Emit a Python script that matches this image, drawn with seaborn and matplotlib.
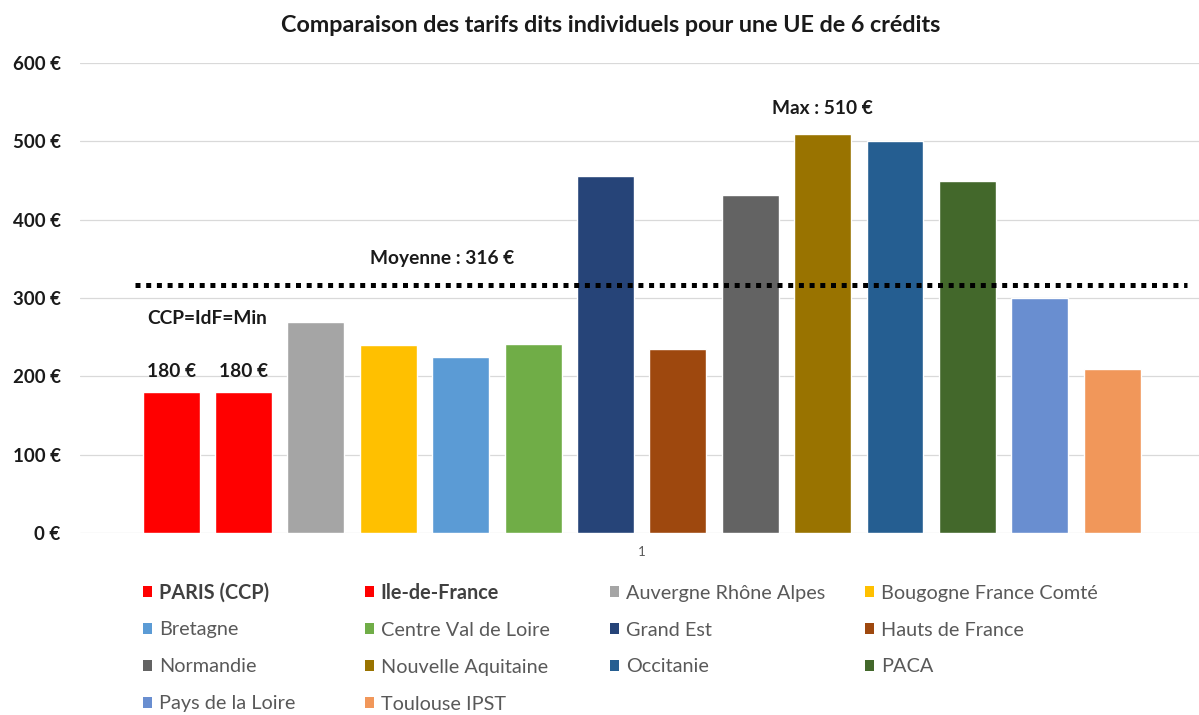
import numpy as np
import pandas as pd
import matplotlib.pyplot as plt
import seaborn as sns
from matplotlib.patches import Patch

# data
regions = [
    "PARIS (CCP)", "Ile-de-France", "Auvergne Rhône Alpes", "Bougogne France Comté",
    "Bretagne", "Centre Val de Loire", "Grand Est", "Hauts de France",
    "Normandie", "Nouvelle Aquitaine", "Occitanie", "PACA",
    "Pays de la Loire", "Toulouse IPST",
]
tarifs = [180, 180, 270, 240, 225, 241, 456, 235, 432, 510, 500, 450, 300, 210]
colors = [
    "#FF0000", "#FF0000", "#A5A5A5", "#FFC000",
    "#5B9BD5", "#70AD47", "#264478", "#9E480E",
    "#636363", "#997300", "#255E91", "#43682B",
    "#698ED0", "#F1975A",
]
bold_regions = ["PARIS (CCP)", "Ile-de-France"]
yticks = [0, 100, 200, 300, 400, 500, 600]

sns.set_theme(style="white")
plt.rcParams["font.family"] = ["Lato", "DejaVu Sans"]

W, H = 1199, 715
fig = plt.figure(figsize=(W / 100, H / 100), dpi=100)
ax = fig.add_axes([80 / W, 1 - 533 / H, 1119 / W, 470 / H])

df = pd.DataFrame({"region": regions, "tarif": tarifs})
sns.barplot(
    data=df, x="region", y="tarif", hue="region",
    palette=dict(zip(regions, colors)), width=0.787, saturation=1,
    legend=False, ax=ax,
)

# axes look
ax.set_xlim(-1.26, 14.2)
ax.set_ylim(0, 600)
ax.set_yticks(yticks)
ax.set_yticklabels([f"{v} €" for v in yticks], fontweight="bold", color="#1a1a1a")
ax.tick_params(axis="y", length=0, pad=14, labelsize=13.5)
ax.set_xticks([6.5])
ax.set_xticklabels(["1"], color="#595959")
ax.tick_params(axis="x", length=0, pad=9, labelsize=9.5)
ax.set_xlabel("")
ax.set_ylabel("")
ax.grid(axis="y", color="#D9D9D9", linewidth=0.9)
ax.set_axisbelow(True)
for s in ax.spines.values():
    s.set_visible(False)

lab_size = 13.8

# mean line
moy = np.mean(tarifs)
ax.plot([-0.5, 14.03], [moy, moy], color="black", linewidth=3.6,
        linestyle=(0, (1, 1.14)))
ax.annotate(f"Moyenne : {moy:.0f} €", (3.74, moy), xytext=(0, 19),
            textcoords="offset points", ha="center", va="center",
            fontweight="bold", fontsize=lab_size, color="#1a1a1a")

# min labels
vmin = min(tarifs)
min_idx = [i for i, v in enumerate(tarifs) if v == vmin]
for i in min_idx:
    ax.annotate(f"{vmin} €", (i, vmin), xytext=(0, 15), textcoords="offset points",
                ha="center", va="center", fontweight="bold", fontsize=lab_size, color="#1a1a1a")
ax.annotate("CCP=IdF=Min", (np.mean(min_idx), vmin), xytext=(0, 53),
            textcoords="offset points", ha="center", va="center",
            fontweight="bold", fontsize=lab_size, color="#1a1a1a")

# max label
imax = int(np.argmax(tarifs))
ax.annotate(f"Max : {tarifs[imax]} €", (imax, tarifs[imax]), xytext=(0, 18),
            textcoords="offset points", ha="center", va="center",
            fontweight="bold", fontsize=lab_size, color="#1a1a1a")

# title
fig.text(611 / W, 1 - 25 / H, "Comparaison des tarifs dits individuels pour une UE de 6 crédits",
         ha="center", va="center", fontweight="bold", fontsize=16.8, color="#1a1a1a")

# legend, row-major in 4 columns, one small legend per entry so rows line up
col_x = [143, 365, 610, 865]
row_y = [593, 630, 667, 704]
for i, (reg, col) in enumerate(zip(regions, colors)):
    r, c = divmod(i, 4)
    leg = fig.legend([Patch(facecolor=col, edgecolor="none")], [reg], loc="center left",
                     bbox_to_anchor=(col_x[c] / W, 1 - row_y[r] / H),
                     frameon=False, fontsize=14.3, handlelength=0.47, handleheight=0.47,
                     handletextpad=0.32, borderpad=0, borderaxespad=0)
    t = leg.get_texts()[0]
    if reg in bold_regions:
        t.set_fontweight("bold")
        t.set_color("#404040")
    else:
        t.set_color("#595959")

fig.savefig("out.png", dpi=100)
